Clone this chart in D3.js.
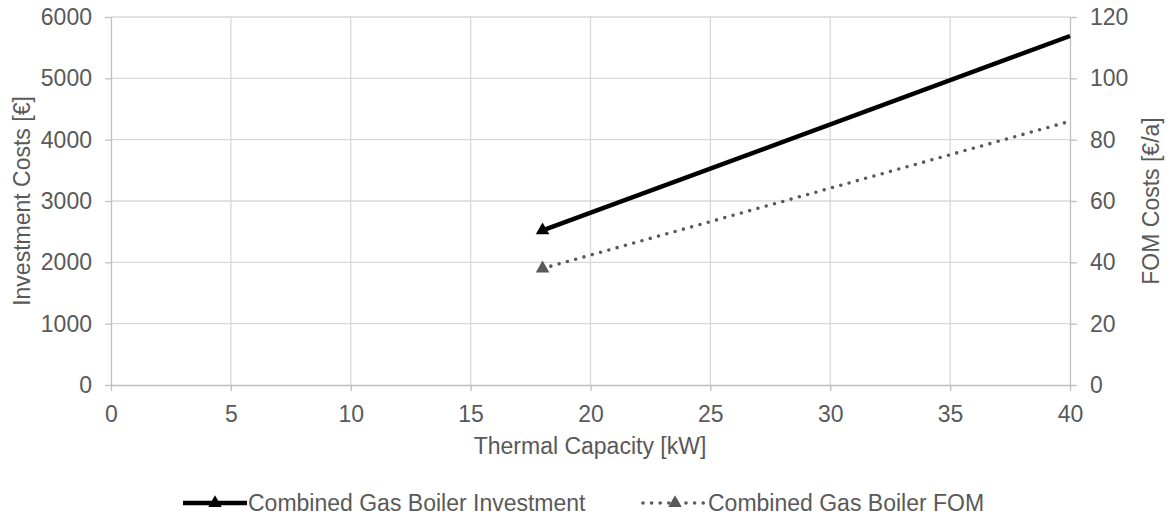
<!DOCTYPE html>
<html>
<head>
<meta charset="utf-8">
<script src="https://cdn.jsdelivr.net/npm/d3@7"></script>
<style>
  html, body { margin: 0; padding: 0; background: #ffffff; }
  svg { display: block; font-family: "Liberation Sans", Arial, sans-serif; }
</style>
</head>
<body>
<svg id="chart" width="1167" height="519"></svg>
<script>
// Thermal capacity [kW] at the two ends of the cost curves
const capacity = [18, 40];
// Investment costs [€]
const investment = [2520, 5690];
// Fixed operation & maintenance costs [€/a]
const fom = [38, 86];

const xTicks = [0, 5, 10, 15, 20, 25, 30, 35, 40];
const leftTicks = [0, 1000, 2000, 3000, 4000, 5000, 6000];
const rightTicks = [0, 20, 40, 60, 80, 100, 120];

const seriesNames = ["Combined Gas Boiler Investment", "Combined Gas Boiler FOM"];
const xTitle = "Thermal Capacity [kW]";
const leftTitle = "Investment Costs [€]";
const rightTitle = "FOM Costs [€/a]";

const textColor = "#595959";
const gridColor = "#d9d9d9";
const axisColor = "#bfbfbf";
const fontSize = 23;

const svg = d3.select("#chart");
const plot = { left: 111, right: 1070, top: 17, bottom: 385 };

const x = d3.scaleLinear().domain([0, 40]).range([plot.left, plot.right]);
const yL = d3.scaleLinear().domain([0, 6000]).range([plot.bottom, plot.top]);
const yR = d3.scaleLinear().domain([0, 120]).range([plot.bottom, plot.top]);

// Gridlines
const grid = svg.append("g");
grid.selectAll("line.h").data(leftTicks.filter(d => d > 0)).join("line")
  .attr("x1", plot.left).attr("x2", plot.right)
  .attr("y1", d => yL(d)).attr("y2", d => yL(d))
  .attr("stroke", gridColor).attr("stroke-width", 1.3);
grid.selectAll("line.v").data(xTicks.filter(d => d > 0 && d < 40)).join("line")
  .attr("x1", d => x(d)).attr("x2", d => x(d))
  .attr("y1", plot.top).attr("y2", plot.bottom)
  .attr("stroke", gridColor).attr("stroke-width", 1.3);

function styleAxis(g) {
  g.select(".domain").attr("stroke", axisColor).attr("stroke-width", 1.3);
  g.selectAll(".tick line").attr("stroke", axisColor).attr("stroke-width", 1.3);
  g.selectAll(".tick text").attr("fill", textColor)
    .style("font-size", fontSize + "px")
    .style("font-family", '"Liberation Sans", Arial, sans-serif');
}

// Axes
const gLeft = svg.append("g").attr("transform", `translate(${plot.left},0)`)
  .call(d3.axisLeft(yL).tickValues(leftTicks).tickFormat(d3.format("d")).tickSize(6).tickSizeOuter(0).tickPadding(13));
styleAxis(gLeft);

const gRight = svg.append("g").attr("transform", `translate(${plot.right},0)`)
  .call(d3.axisRight(yR).tickValues(rightTicks).tickFormat(d3.format("d")).tickSize(7).tickSizeOuter(0).tickPadding(13));
styleAxis(gRight);

const gBottom = svg.append("g").attr("transform", `translate(0,${plot.bottom})`)
  .call(d3.axisBottom(x).tickValues(xTicks).tickFormat(d3.format("d")).tickSize(6).tickSizeOuter(0));
styleAxis(gBottom);
gBottom.selectAll(".tick text").attr("y", 29).attr("dy", "0.35em");

// Axis titles
svg.append("text").attr("x", 590).attr("y", 446).attr("dy", "0.35em")
  .attr("text-anchor", "middle").attr("fill", textColor).style("font-size", fontSize + "px")
  .text(xTitle);
svg.append("text").attr("transform", `translate(22,${(plot.top + plot.bottom) / 2}) rotate(-90)`)
  .attr("dy", "0.35em").attr("text-anchor", "middle").attr("fill", textColor)
  .style("font-size", fontSize + "px").text(leftTitle);
svg.append("text").attr("transform", `translate(1151,${(plot.top + plot.bottom) / 2}) rotate(-90)`)
  .attr("dy", "0.35em").attr("text-anchor", "middle").attr("fill", textColor)
  .style("font-size", fontSize + "px").text(rightTitle);

// Series
const series = [
  { name: seriesNames[0], values: investment, scale: yL, color: "#000000", width: 4.5, dash: null, cap: "butt" },
  { name: seriesNames[1], values: fom, scale: yR, color: "#595959", width: 3.6, dash: "0 8.6", cap: "round" }
];

const tri = d3.symbol().type(d3.symbolTriangle).size(80);

series.forEach(s => {
  const pts = capacity.map((c, i) => [c, s.values[i]]);
  const line = d3.line().x(d => x(d[0])).y(d => s.scale(d[1]));
  svg.append("path").datum(pts)
    .attr("d", line).attr("fill", "none")
    .attr("stroke", s.color).attr("stroke-width", s.width)
    .attr("stroke-linecap", s.cap)
    .attr("stroke-dasharray", s.dash);
  // marker on the first data point
  svg.append("path").attr("d", tri)
    .attr("transform", `translate(${x(pts[0][0])},${s.scale(pts[0][1])})`)
    .attr("fill", s.color);
});

// Legend
const legendY = 503;
const legendItems = [
  { s: series[0], x0: 183 },
  { s: series[1], x0: 643 }
];
legendItems.forEach(item => {
  const g = svg.append("g").attr("transform", `translate(${item.x0},${legendY})`);
  g.append("line").attr("x1", 0).attr("x2", 64).attr("y1", 0).attr("y2", 0)
    .attr("stroke", item.s.color).attr("stroke-width", item.s.width)
    .attr("stroke-linecap", item.s.cap)
    .attr("stroke-dasharray", item.s.dash);
  g.append("path").attr("d", tri).attr("transform", "translate(32,0)").attr("fill", item.s.color);
  g.append("text").attr("x", 65).attr("y", 0).attr("dy", "0.35em")
    .attr("fill", textColor).style("font-size", fontSize + "px").text(item.s.name);
});
</script>
</body>
</html>
